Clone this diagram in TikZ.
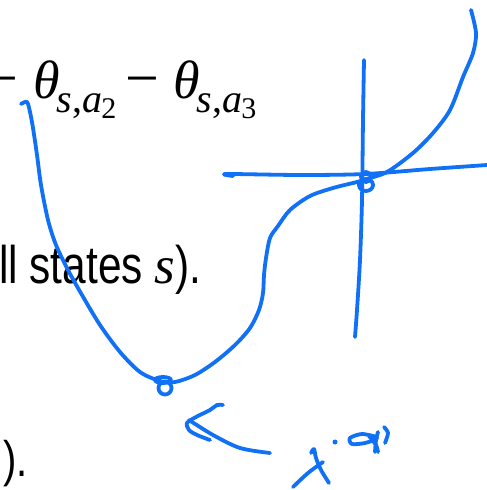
\documentclass[tikz,border=0pt]{standalone}
\usepackage{fontspec}
\setmainfont{Liberation Serif}
\newfontfamily\slidesans[FakeStretch=0.8]{Liberation Sans}
\definecolor{inkblue}{RGB}{16, 112, 246}
\usetikzlibrary{positioning}

\newcommand{\thetasub}[2]{\textit{θ}\kern-3pt\raisebox{-14pt}{\fontsize{40}{40}\selectfont\textit{s},\textit{#1}\kern-1pt\raisebox{-6pt}{\fontsize{30}{30}\selectfont #2}}}

\begin{document}
\begin{tikzpicture}[
  x=1pt, y=-1pt,
  eqtext/.style={inner sep=0pt, anchor=base west, font=\fontsize{54}{60}\selectfont},
  minustext/.style={eqtext, font=\fontsize{60}{60}\selectfont},
  slidetext/.style={inner sep=0pt, anchor=base west, font=\slidesans\fontsize{53}{60}\selectfont},
  ink/.style={draw=inkblue, line width=3.8pt, line cap=round, line join=round}
]
  \useasboundingbox (0,0) rectangle (487,490);
  \clip (0,0) rectangle (487,490);

  % slide text
  \node[minustext] (minusa) at (-16,98) {−};
  \node[eqtext] (thetaa) at (33,98) {\thetasub{a}{2}};
  \node[minustext] (minusb) at (125,98) {−};
  \node[eqtext] (thetab) at (173,98) {\thetasub{a}{3}};
  \node[slidetext] (states) at (-1,283) {ll states {\rmfamily\itshape s}).};
  \node[slidetext, font=\slidesans\fontsize{50}{56}\selectfont] (close) at (3,476) {).};

  % axes
  \draw[ink] plot[smooth] coordinates {(364,60) (363,120) (362,200) (360,260) (357,310) (355,337)};
  \draw[ink] plot[smooth] coordinates {(233,176) (227,174) (300,175) (365,174) (430,169) (487,165)};

  % the curve
  \draw[ink] plot[smooth] coordinates {(21,104) (27,102) (30,112) (33,128) (37,155) (41,185)
    (48,220) (56,245) (68,270) (82,295) (100,325) (120,352) (140,372) (160,381) (175,382)
    (195,375) (215,362) (235,345) (250,328) (259,310) (263,293) (264,275) (266,258)
    (270,238) (278,226) (290,210) (310,196) (333,188) (357,182) (364,180)};
  \draw[ink] plot[smooth] coordinates {(366,179) (387,172) (413,153) (433,133) (450,110)
    (463,77) (473,53) (476,33) (471,10)};
  \draw[ink] (366,177) circle (5);
  \draw[ink] (366,185) ellipse (7 and 6);
  \draw[ink] (165,388) circle (6.5);
  \draw[ink] (163,380) ellipse (8 and 3);

  % arrow and note
  \draw[ink] plot[smooth] coordinates {(223,405) (217,405) (210,410) (196,417) (187,423)
    (189,430) (197,435) (210,440)};
  \draw[ink] plot[smooth] coordinates {(189,420) (213,435) (240,448) (270,453)};
  \draw[ink] plot[smooth] coordinates {(293,487) (308,473) (323,462)};
  \draw[ink] plot[smooth] coordinates {(311,453) (314,449) (316,458) (321,470) (329,483)};
  \fill[inkblue] (335,442) circle (2.5);
  \draw[ink] plot[smooth] coordinates {(377,437) (362,434) (350,438) (352,444) (365,443) (377,439)};
  \draw[ink] plot[smooth] coordinates {(369,436) (376,445) (378,452)};
  \draw[ink] plot[smooth] coordinates {(378,432) (376,440) (375,452)};
  \draw[ink] plot[smooth] coordinates {(384,427) (388,433) (385,443)};
\end{tikzpicture}
\end{document}
